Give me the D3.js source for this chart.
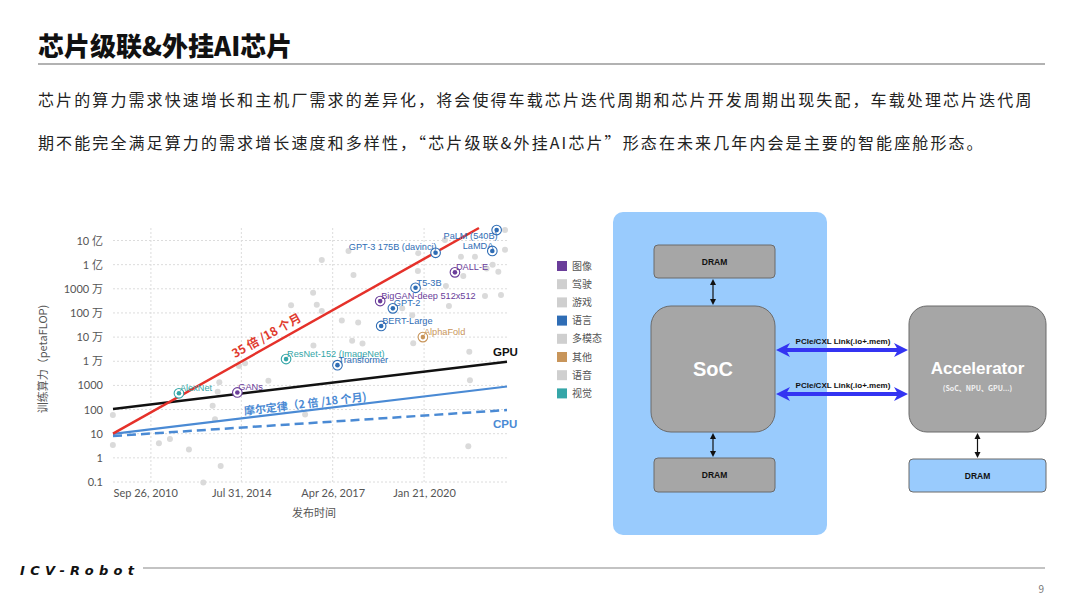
<!DOCTYPE html>
<html>
<head>
<meta charset="utf-8">
<script src="https://cdn.jsdelivr.net/npm/d3@7"></script>
<style>
  body { margin: 0; background: #fff; }
  svg { display: block; font-family: "Noto Sans CJK SC", "Liberation Sans", sans-serif; }
</style>
</head>
<body>
<svg id="page" width="1080" height="608"></svg>
<script>
// ---- data ----
const yTickValues = [0.1, 1, 10, 100, 1000, 1e4, 1e5, 1e6, 1e7, 1e8, 1e9];
const yTickLabels = ['0.1', '1', '10', '100', '1000', '1 万', '10 万', '100 万', '1000 万', '1 亿', '10 亿'];
const xTickYears = [2010.734, 2014.58, 2017.317, 2020.055];
const xTickLabels = ['Sep 26, 2010', 'Jul 31, 2014', 'Apr 26, 2017', 'Jan 21, 2020'];
const xGridYears = [2011.87, 2014.58, 2017.317, 2020.055];

const legendNames = ['图像', '驾驶', '游戏', '语言', '多模态', '其他', '语音', '视觉'];
const legendColors = ['#6a3d9a', '#cfcfcf', '#cfcfcf', '#2f6db5', '#cfcfcf', '#c8955a', '#cfcfcf', '#35a6a8'];

// labelled models
const modelNames = ['AlexNet', 'GANs', 'ResNet-152 (ImageNet)', 'Transformer', 'BERT-Large',
  'BigGAN-deep 512x512', 'GPT-2', 'AlphaFold', 'T5-3B', 'GPT-3 175B (davinci)', 'DALL-E', 'LaMDA', 'PaLM (540B)'];
const modelYears = [2012.71, 2014.46, 2015.92, 2017.46, 2018.77, 2018.74, 2019.12, 2020.02, 2019.80, 2020.40, 2020.98, 2022.10, 2022.23];
const modelCompute = [470, 510, 12300, 6900, 2.9e5, 3.1e6, 1.55e6, 1e5, 1.1e7, 3.1e8, 4.8e7, 3.7e8, 2.7e9];
const modelDomain = ['视觉', '图像', '视觉', '语言', '语言', '图像', '语言', '其他', '语言', '语言', '图像', '语言', '语言'];

// unlabelled (grey) models
const otherYears = [2010.73, 2010.73, 2012.11, 2012.44, 2013.01, 2013.96, 2013.44, 2013.92, 2013.87, 2013.72,
  2013.79, 2014.51, 2014.69, 2015.39, 2016.49, 2016.07, 2016.73, 2016.84, 2016.99, 2016.99,
  2017.79, 2017.94, 2017.59, 2018.08, 2016.74, 2017.90, 2018.21, 2019.87, 2019.40, 2019.70,
  2020.71, 2020.80, 2021.16, 2021.23, 2021.88, 2022.36, 2022.11, 2022.48, 2022.48, 2021.58,
  2021.93, 2022.28, 2020.68, 2019.88, 2019.73, 2021.41, 2021.43, 2021.38];
const otherCompute = [59, 3.4, 4.0, 6.0, 2.2, 0.46, 0.095, 1350, 540, 145,
  40, 6300, 8300, 1550, 62, 2.1e6, 6.9e6, 2.2e6, 1.2e6, 1.55e8,
  3.7e8, 3.7e7, 4.9e5, 4e5, 4.5e4, 7e4, 5.4e4, 5.5e7, 1.55e6, 8.1e5,
  1.3e7, 1.95e6, 2.1e8, 3.4e7, 5e6, 5.5e6, 9.8e7, 2.7e9, 4.1e8, 2.1e8,
  7e7, 5.1e7, 1.05e9, 3e8, 5.5e4, 2.5e4, 1650, 3];

// trend lines: [start, end] as [year, petaFLOP]
const trendAI = [[2010.734, 10], [2021.70, 3.3e9]];
const trendGPU = [[2010.734, 105], [2022.54, 9600]];
const trendMoore = [[2010.734, 9.8], [2022.54, 900]];
const trendCPU = [[2010.734, 8], [2022.54, 95]];

// ---- page ----
const svg = d3.select('#page');

svg.append('text').attr('x', 38).attr('y', 56)
  .attr('font-size', 26).attr('font-weight', 900).attr('fill', '#111')
  .text('芯片级联&外挂AI芯片');
svg.append('line').attr('x1', 38).attr('x2', 1045).attr('y1', 64).attr('y2', 64)
  .attr('stroke', '#999').attr('stroke-width', 1.5);

const para = ['芯片的算力需求快速增长和主机厂需求的差异化，将会使得车载芯片迭代周期和芯片开发周期出现失配，车载处理芯片迭代周',
  '期不能完全满足算力的需求增长速度和多样性，“芯片级联&外挂AI芯片”形态在未来几年内会是主要的智能座舱形态。'];
svg.selectAll('text.para').data(para).enter().append('text')
  .attr('class', 'para')
  .attr('x', 38).attr('y', (d, i) => 106 + i * 43)
  .attr('font-size', 16).attr('letter-spacing', 2.1).attr('fill', '#222')
  .text(d => d);

// footer
svg.append('text').attr('x', 20).attr('y', 575)
  .attr('font-family', 'DejaVu Sans, sans-serif')
  .attr('font-size', 13).attr('font-style', 'italic').attr('font-weight', 'bold')
  .attr('letter-spacing', 5.3).attr('fill', '#111').text('ICV-Robot');
svg.append('line').attr('x1', 143).attr('x2', 1045).attr('y1', 568).attr('y2', 568)
  .attr('stroke', '#888').attr('stroke-width', 1.2);
svg.append('text').attr('x', 1044).attr('y', 593).attr('text-anchor', 'end')
  .attr('font-size', 10).attr('fill', '#777').text('9');

// ---- chart ----
const x = d3.scaleLinear().domain([2010.734, 2022.54]).range([113, 507]);
const y = d3.scaleLog().domain([0.1, 1e9]).range([482, 240.5]);

const chart = svg.append('g').attr('font-family', 'Liberation Sans, Arial, sans-serif');

// grid
chart.selectAll('line.hgrid').data(yTickValues).enter().append('line')
  .attr('x1', 113).attr('x2', 507)
  .attr('y1', d => y(d)).attr('y2', d => y(d))
  .attr('stroke', '#dcdcdc').attr('stroke-width', 1).attr('stroke-dasharray', '2,2');
chart.selectAll('line.vgrid').data(xGridYears).enter().append('line')
  .attr('x1', d => x(d)).attr('x2', d => x(d))
  .attr('y1', 228).attr('y2', 482)
  .attr('stroke', '#dcdcdc').attr('stroke-width', 1).attr('stroke-dasharray', '2,2');

// axes
const yAxis = chart.append('g').attr('transform', 'translate(113,0)')
  .call(d3.axisLeft(y).tickValues(yTickValues)
    .tickFormat((d, i) => yTickLabels[i]).tickSize(0).tickPadding(10));
const xAxis = chart.append('g').attr('transform', 'translate(0,482)')
  .call(d3.axisBottom(x).tickValues(xTickYears)
    .tickFormat((d, i) => xTickLabels[i]).tickSize(0).tickPadding(7));
[yAxis, xAxis].forEach(a => {
  a.select('.domain').remove();
  a.selectAll('text').attr('font-size', 11).attr('fill', '#555')
    .attr('font-family', 'Lato, "Noto Sans CJK SC", sans-serif');
});
xAxis.selectAll('text').filter((d, i) => i === 0).attr('text-anchor', 'start');

chart.append('text')
  .attr('transform', 'translate(47,359) rotate(-90)')
  .attr('text-anchor', 'middle').attr('font-size', 11).attr('fill', '#555')
  .attr('font-family', '"Noto Sans CJK SC", sans-serif')
  .text('训练算力（petaFLOP)');
chart.append('text').attr('x', 314).attr('y', 517)
  .attr('text-anchor', 'middle').attr('font-size', 11).attr('fill', '#555')
  .attr('font-family', '"Noto Sans CJK SC", sans-serif')
  .text('发布时间');

// grey dots
chart.selectAll('circle.other').data(otherYears).enter().append('circle')
  .attr('cx', d => x(d)).attr('cy', (d, i) => y(otherCompute[i]))
  .attr('r', 3).attr('fill', '#dadada');

// trend lines
const line = d3.line().x(d => x(d[0])).y(d => y(d[1]));
chart.append('path').datum(trendCPU).attr('d', line).attr('fill', 'none')
  .attr('stroke', '#4a8ad4').attr('stroke-width', 2.5).attr('stroke-dasharray', '9,5');
chart.append('path').datum(trendMoore).attr('d', line).attr('fill', 'none')
  .attr('stroke', '#4a8ad4').attr('stroke-width', 2.2);
chart.append('path').datum(trendGPU).attr('d', line).attr('fill', 'none')
  .attr('stroke', '#111').attr('stroke-width', 2.5);
chart.append('path').datum(trendAI).attr('d', line).attr('fill', 'none')
  .attr('stroke', '#e5312a').attr('stroke-width', 2.5);

// labels along lines
function alongLabel(tr, t, off, txt, color, size) {
  const x0 = x(tr[0][0]), y0 = y(tr[0][1]), x1 = x(tr[1][0]), y1 = y(tr[1][1]);
  const ang = Math.atan2(y1 - y0, x1 - x0) * 180 / Math.PI;
  chart.append('text')
    .attr('transform', `translate(${x0 + (x1 - x0) * t},${y0 + (y1 - y0) * t}) rotate(${ang})`)
    .attr('y', off).attr('text-anchor', 'middle')
    .attr('font-family', '"Noto Sans CJK SC", sans-serif')
    .attr('font-size', size).attr('font-weight', 'bold').attr('fill', color)
    .text(txt);
}
alongLabel(trendAI, 0.433, -6, '35 倍 /18 个月', '#e03a2e', 12);
alongLabel(trendMoore, 0.49, -3, '摩尔定律（2 倍 /18 个月)', '#4a8ad4', 11);

chart.append('text').attr('x', 493).attr('y', 356).attr('font-size', 11.5)
  .attr('font-weight', 'bold').attr('fill', '#111').text('GPU');
chart.append('text').attr('x', 493).attr('y', 427.5).attr('font-size', 11.5)
  .attr('font-weight', 'bold').attr('fill', '#4a8ad4').text('CPU');

// labelled models
const domainColor = name => legendColors[legendNames.indexOf(name)];
const endAnchored = ['LaMDA', 'GPT-3 175B (davinci)', 'PaLM (540B)'];
const model = chart.selectAll('g.model').data(modelNames).enter().append('g')
  .attr('transform', (d, i) => `translate(${x(modelYears[i])},${y(modelCompute[i])})`);
model.append('circle').attr('r', 4.8).attr('fill', '#fff')
  .attr('stroke', (d, i) => domainColor(modelDomain[i])).attr('stroke-width', 1.1);
model.append('circle').attr('r', 2.3)
  .attr('fill', (d, i) => domainColor(modelDomain[i]));
model.append('text')
  .attr('x', 1)
  .attr('y', d => d === 'PaLM (540B)' ? 9 : -2.3)
  .attr('text-anchor', d => endAnchored.includes(d) ? 'end' : 'start')
  .attr('font-size', 9.2)
  .attr('fill', (d, i) => domainColor(modelDomain[i]))
  .text(d => d);

// legend
const legend = svg.append('g').attr('transform', 'translate(557,266)');
const item = legend.selectAll('g').data(legendNames).enter().append('g')
  .attr('transform', (d, i) => `translate(0,${i * 18.2})`);
item.append('rect').attr('x', 0).attr('y', -5).attr('width', 10).attr('height', 10)
  .attr('fill', (d, i) => legendColors[i]);
item.append('text').attr('x', 15).attr('y', 3.5).attr('font-size', 10).attr('fill', '#555')
  .text(d => d);

// ---- block diagram ----
const dg = svg.append('g').attr('font-family', 'Liberation Sans, Arial, sans-serif');
dg.append('rect').attr('x', 613).attr('y', 212).attr('width', 214).attr('height', 323)
  .attr('rx', 10).attr('fill', '#99cbfd');

const boxes = [
  { x: 654, y: 245, w: 121, h: 33, rx: 4, fill: '#a6a6a6', text: 'DRAM' },
  { x: 651, y: 306, w: 124, h: 126, rx: 20, fill: '#a6a6a6', text: 'SoC' },
  { x: 654, y: 458, w: 121, h: 34, rx: 4, fill: '#a6a6a6', text: 'DRAM' },
  { x: 909, y: 306, w: 137, h: 126, rx: 18, fill: '#a6a6a6', text: 'Accelerator' },
  { x: 909, y: 459, w: 137, h: 33, rx: 4, fill: '#99cbfd', text: 'DRAM' }
];
dg.selectAll('rect.box').data(boxes).enter().append('rect')
  .attr('x', d => d.x).attr('y', d => d.y).attr('width', d => d.w).attr('height', d => d.h)
  .attr('rx', d => d.rx).attr('fill', d => d.fill)
  .attr('stroke', '#6b6b6b').attr('stroke-width', 1);
dg.selectAll('text.box').data(boxes).enter().append('text')
  .attr('x', d => d.x + d.w / 2)
  .attr('y', d => d.text === 'DRAM' ? d.y + d.h / 2 + 3 : d.y + d.h / 2 + (d.text === 'SoC' ? 7 : 5))
  .attr('text-anchor', 'middle').attr('font-weight', 'bold')
  .attr('font-size', d => d.text === 'DRAM' ? 8.5 : (d.text === 'SoC' ? 20 : 17))
  .attr('fill', d => d.text === 'DRAM' ? '#111' : '#fff')
  .text(d => d.text);
dg.append('text').attr('x', 977.5).attr('y', 391).attr('text-anchor', 'middle')
  .attr('font-size', 7).attr('font-weight', 'bold').attr('fill', '#f2f2f2')
  .attr('font-family', '"Noto Sans CJK SC", sans-serif')
  .text('(SoC、NPU、GPU...)');

// thin vertical double arrows
function vArrow(cx, y1, y2) {
  dg.append('line').attr('x1', cx).attr('x2', cx).attr('y1', y1 + 4).attr('y2', y2 - 4)
    .attr('stroke', '#111').attr('stroke-width', 1.2);
  dg.append('path').attr('d', `M${cx},${y1} L${cx - 3},${y1 + 6} L${cx + 3},${y1 + 6} Z`).attr('fill', '#111');
  dg.append('path').attr('d', `M${cx},${y2} L${cx - 3},${y2 - 6} L${cx + 3},${y2 - 6} Z`).attr('fill', '#111');
}
vArrow(713, 279, 305);
vArrow(713, 433, 457);
vArrow(977.5, 433, 458);

// thick blue double arrows
function hArrow(cy, x1, x2) {
  dg.append('line').attr('x1', x1 + 10).attr('x2', x2 - 10).attr('y1', cy).attr('y2', cy)
    .attr('stroke', '#3434f2').attr('stroke-width', 4);
  dg.append('path').attr('d', `M${x1},${cy} L${x1 + 14},${cy - 7} L${x1 + 10},${cy} L${x1 + 14},${cy + 7} Z`).attr('fill', '#3434f2');
  dg.append('path').attr('d', `M${x2},${cy} L${x2 - 14},${cy - 7} L${x2 - 10},${cy} L${x2 - 14},${cy + 7} Z`).attr('fill', '#3434f2');
  dg.append('text').attr('x', 843).attr('y', cy - 6).attr('text-anchor', 'middle')
    .attr('font-size', 8).attr('font-weight', 'bold').attr('fill', '#111')
    .text('PCIe/CXL Link(.io+.mem)');
}
hArrow(350, 776, 908);
hArrow(394, 776, 908);
</script>
</body>
</html>
